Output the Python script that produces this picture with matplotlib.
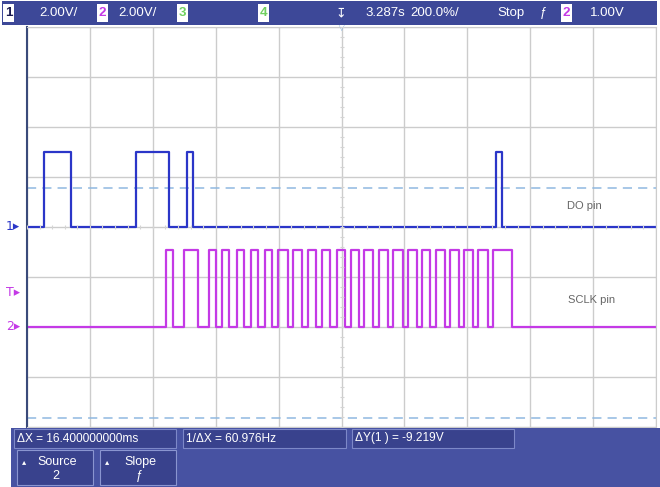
import matplotlib
matplotlib.use("Agg")
import matplotlib.pyplot as plt
from matplotlib.patches import Rectangle

# time axis is in ms, 2 ms/div, trigger at the centre of the screen
do_rise = [-9.45, -6.54, -4.91, 4.90]
do_fall = [-8.60, -5.48, -4.71, 5.11]
sclk_rise = [-5.59, -5.00, -4.21, -3.81, -3.33, -2.88, -2.43, -2.01, -1.53, -1.07, -0.61, -0.15,
             0.30, 0.72, 1.19, 1.65, 2.10, 2.55, 3.00, 3.45, 3.90, 4.35, 4.81]
sclk_fall = [-5.35, -4.55, -3.99, -3.58, -3.09, -2.65, -2.20, -1.71, -1.27, -0.82, -0.37, 0.11,
             0.56, 1.01, 1.47, 1.97, 2.39, 2.81, 3.29, 3.75, 4.19, 4.65, 5.41]
do_high = 3.0      # V
sclk_high = 3.1    # V
ch1_offset = 0.0   # V on screen (2 V/div)
ch2_offset = -4.0
cursor_y1 = 1.56
delta_y = -9.219
trig_level = -2.64  # screen position of the T marker

top_labels = ["2.00V/", "2.00V/", "3.287s", "200.0%/", "Stop", "1.00V"]
readouts = ["\u0394X = 16.400000000ms", "1/\u0394X = 60.976Hz", "\u0394Y(1 ) = -9.219V"]
softkeys = [("Source", "2"), ("Slope", "\u0192")]

W, H = 660, 487
plt.rcParams['font.family'] = ['Liberation Sans', 'DejaVu Sans']
FS = 9.2


def steps(rise, fall, high, offset):
    xs, ys = [-10], [offset]
    for r, f in zip(rise, fall):
        xs += [r, r, f, f]
        ys += [offset, offset + high, offset + high, offset]
    xs.append(10)
    ys.append(offset)
    return xs, ys


def px(x, y):
    return x / W, 1 - y / H


fig = plt.figure(figsize=(6.6, 4.87), dpi=100)
fig.patch.set_facecolor("white")

# grid area
ax = fig.add_axes([27 / W, (H - 427) / H, 629 / W, 400 / H])
ax.set_xlim(-10, 10)
ax.set_ylim(-8, 8)
ax.set_xticks(range(-10, 11, 2))
ax.set_yticks(range(-8, 9, 2))
ax.grid(True, color="#cccccc", lw=1)
ax.tick_params(length=0, labelbottom=False, labelleft=False)
for s in ax.spines.values():
    s.set_color("#cccccc")
ax.spines["left"].set_color("#3a4a7a")
ax.spines["left"].set_linewidth(1.5)

# centre axis ticks
ax2 = fig.add_axes(ax.get_position(), frameon=False)
ax2.set_xlim(-10, 10)
ax2.set_ylim(-8, 8)
ax2.patch.set_visible(False)
for side in ["left", "bottom"]:
    ax2.spines[side].set_visible(True)
    ax2.spines[side].set_position(("data", 0))
    ax2.spines[side].set_color("#cccccc")
ax2.set_xticks([x * 0.4 for x in range(-25, 26)])
ax2.set_yticks([y * 0.4 for y in range(-20, 21)])
ax2.tick_params(direction="inout", length=3, color="#d4d4d4", labelbottom=False, labelleft=False)

# cursors
ax.axhline(cursor_y1, color="#8fb8e0", lw=1.1, ls=(0, (6, 4)))
ax.axhline(cursor_y1 + delta_y, color="#8fb8e0", lw=1.1, ls=(0, (6, 4)))

x1, y1 = steps(do_rise, do_fall, do_high, ch1_offset)
ax.plot(x1, y1, color="#2b36c8", lw=1.6)
x2, y2 = steps(sclk_rise, sclk_fall, sclk_high, ch2_offset)
ax.plot(x2, y2, color="#c43ae6", lw=1.6)

ax.text(7.16, 0.84, "DO pin", fontsize=8, color="#666666", va="center")
ax.text(7.2, -2.92, "SCLK pin", fontsize=8, color="#666666", va="center")

# left markers
for lvl, lab, col in [(ch1_offset, "1", "#2b36c8"), (trig_level, "T", "#c43ae6"),
                      (ch2_offset, "2", "#c43ae6")]:
    ax.annotate(lab + "\u25b8", (0, lvl), xycoords=("axes fraction", "data"), xytext=(-15, 0),
                textcoords="offset points", color=col, fontsize=9, va="center", ha="left",
                family="DejaVu Sans")
ax.annotate("\u25bd", (0.5, 1), xycoords="axes fraction", ha="center", va="center",
            color="#8fb8e0", fontsize=7, family="DejaVu Sans")

# top status bar
bar = "#3d4898"
fig.patches.append(Rectangle(px(2, 25), 655 / W, 24 / H, transform=fig.transFigure,
                             facecolor=bar, edgecolor="none"))
for xb, num, col in [(3, "1", "#1a1a50"), (97, "2", "#c43ae6"), (177, "3", "#70d060"),
                     (258, "4", "#70d060"), (561, "2", "#c43ae6")]:
    fig.patches.append(Rectangle(px(xb, 22), 11 / W, 18 / H, transform=fig.transFigure,
                                 facecolor="white", edgecolor="none"))
    fig.text(*px(xb + 5.5, 13), num, color=col, fontsize=FS + 0.5, ha="center", va="center",
             fontweight="bold")
for xt, lab in zip([39, 118, 365, 410, 497, 590], top_labels):
    fig.text(*px(xt, 13), lab, color="white", fontsize=FS + 0.3, ha="left", va="center")
fig.text(*px(543, 13), "\u0192", color="white", fontsize=FS, ha="center", va="center")
fig.text(*px(341, 13), "\u21a7", color="white", fontsize=FS, ha="center", va="center",
         family="DejaVu Sans")

# bottom panel
panel = "#4752a2"
fig.patches.append(Rectangle(px(11, 487), 649 / W, 59 / H, transform=fig.transFigure,
                             facecolor=panel, edgecolor="none"))
for (xa, xb_), txt in zip([(14, 176), (183, 346), (352, 514)], readouts):
    fig.patches.append(Rectangle(px(xa, 448), (xb_ - xa) / W, 19 / H, transform=fig.transFigure,
                                 facecolor="#39428d", edgecolor="#7d88c8", lw=0.8))
    fig.text(*px(xa + 3, 438.5), txt, color="white", fontsize=8.6, ha="left", va="center")
for i, (top, bot) in enumerate(softkeys):
    xa = 17 + i * 83
    fig.patches.append(Rectangle(px(xa, 485), 76 / W, 35 / H, transform=fig.transFigure,
                                 facecolor="#39428d", edgecolor="#8a95d0", lw=0.8))
    fig.text(*px(xa + 7, 462), "\u25b4", color="white", fontsize=6, ha="center", va="center",
             family="DejaVu Sans")
    fig.text(*px(xa + 40, 462), top, color="white", fontsize=9, ha="center", va="center")
    fig.text(*px(xa + 39, 476), bot, color="white", fontsize=9, ha="center", va="center")

fig.savefig("out.png", dpi=100)
